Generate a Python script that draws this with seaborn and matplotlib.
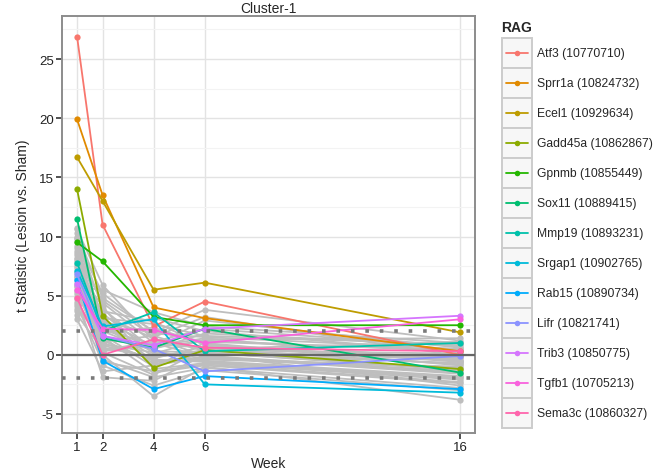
import matplotlib
matplotlib.use("Agg")
import matplotlib.pyplot as plt
from matplotlib.patches import Rectangle
from matplotlib.ticker import MultipleLocator
import pandas as pd
import seaborn as sns

weeks = [1, 2, 4, 6, 16]

rag_names = [
    "Atf3 (10770710)", "Sprr1a (10824732)", "Ecel1 (10929634)",
    "Gadd45a (10862867)", "Gpnmb (10855449)", "Sox11 (10889415)",
    "Mmp19 (10893231)", "Srgap1 (10902765)", "Rab15 (10890734)",
    "Lifr (10821741)", "Trib3 (10850775)", "Tgfb1 (10705213)",
    "Sema3c (10860327)",
]
rag_values = [
    [26.9, 11.0, 2.4, 4.5, 0.0],
    [19.9, 13.5, 4.0, 3.1, 0.3],
    [16.7, 13.0, 5.5, 6.1, 1.9],
    [14.0, 3.3, -1.1, 0.4, -1.2],
    [9.5, 7.9, 3.2, 2.5, 2.5],
    [11.5, 1.4, 0.6, 2.2, -1.5],
    [7.8, 2.0, 3.6, 0.3, 1.0],
    [7.1, 2.4, 3.0, -2.5, -3.2],
    [6.3, -0.5, -2.9, -1.8, -2.9],
    [6.8, 1.6, 0.5, -1.4, -0.1],
    [6.0, 1.6, 0.8, 2.2, 3.3],
    [5.5, 2.2, 2.1, 1.0, 3.0],
    [4.8, 0.0, 1.3, 0.6, 0.3],
]
rag_colors = [
    "#F8766D", "#E18A00", "#BE9C00", "#8CAB00", "#24B700", "#00BE70",
    "#00C1AB", "#00BBDA", "#00ACFC", "#8B93FF", "#D575FE", "#F962DD",
    "#FF65AC",
]

# other genes in the cluster (drawn in grey)
other_values = [
    [10.6, 5.9, 1.2, 0.5, -0.8], [10.3, 4.8, 2.0, 1.1, 0.4],
    [10.0, 3.9, 0.4, -0.6, -1.9], [9.8, 2.7, -0.8, 0.2, -1.2],
    [9.5, 5.2, 1.9, 3.8, 1.2], [9.2, 1.5, -1.5, -0.9, -2.4],
    [9.0, 3.1, 2.6, 1.6, 0.9], [8.8, 0.8, -0.3, 0.7, -0.5],
    [8.6, 4.4, 1.0, -0.2, -1.6], [8.4, 2.2, 3.1, 2.0, 0.2],
    [8.1, -0.4, -1.9, -1.1, -2.8], [7.9, 3.5, 0.1, 1.3, 1.4],
    [7.7, 1.1, 1.6, 0.3, -0.3], [7.5, 2.9, -0.6, -0.4, -1.0],
    [7.3, 0.3, 0.8, 2.9, 0.6], [7.1, 4.1, -1.2, -0.7, -2.1],
    [6.9, 1.9, 2.3, 0.9, -0.6], [6.7, -0.9, -2.6, -1.3, -3.0],
    [6.5, 2.5, 0.5, 1.8, 0.8], [6.3, 3.3, 1.4, -0.1, -1.4],
    [6.1, 0.6, -0.2, 0.4, 0.1], [5.9, 1.7, -1.0, 1.0, -0.9],
    [5.7, 5.5, 3.6, 2.4, 1.0], [5.5, 0.0, -3.5, -1.0, -3.8],
    [5.3, 2.1, 0.9, 0.6, -0.2], [5.1, 1.2, -0.5, -0.5, -1.8],
    [4.9, -1.9, -2.2, 0.0, -2.6], [4.7, 2.8, 1.8, 1.5, 0.5],
    [4.5, 0.9, 0.2, -0.3, -1.1], [4.3, 3.7, 2.8, 0.8, -0.4],
    [4.1, -0.6, -1.4, -0.8, -2.3], [3.9, 1.4, 0.6, 1.2, 0.3],
    [3.7, 2.4, -0.1, 0.1, -0.7], [3.4, 0.4, 1.1, 2.2, 0.7],
    [3.0, -1.4, -0.9, -0.2, -1.5], [10.7, 2.0, 0.3, 0.2, -1.3],
    [9.9, 0.2, -1.7, 0.5, 1.1], [8.2, 4.6, 1.5, 3.2, -0.1],
    [6.6, 1.0, -0.4, -0.6, -2.0], [5.8, 3.0, 0.7, 1.4, -0.5],
]

y_ticks = [-5, 0, 5, 10, 15, 20, 25]
cutoff = 2

rag_df = pd.DataFrame(
    [(n, w, v) for n, vals in zip(rag_names, rag_values) for w, v in zip(weeks, vals)],
    columns=["RAG", "Week", "t"],
)
other_df = pd.DataFrame(
    [(i, w, v) for i, vals in enumerate(other_values) for w, v in zip(weeks, vals)],
    columns=["gene", "Week", "t"],
)

sns.set_theme(style="white")
plt.rcParams["font.family"] = ["Liberation Sans", "DejaVu Sans"]
plt.rcParams["axes.unicode_minus"] = False

fig = plt.figure(figsize=(6.55, 4.77), dpi=100)
ax = fig.add_axes([62 / 655, 1 - 434 / 477, 413 / 655, 417 / 477])

sns.lineplot(data=other_df, x="Week", y="t", units="gene", estimator=None,
             color="#BEBEBE", marker="o", markersize=4.5, markeredgewidth=0,
             linewidth=1.3, ax=ax, zorder=2)
sns.lineplot(data=rag_df, x="Week", y="t", hue="RAG", hue_order=rag_names,
             palette=rag_colors, estimator=None, marker="o", markersize=4.5,
             markeredgewidth=0, linewidth=1.3, legend=False, ax=ax, zorder=3)

ax.axhline(0, color="#666666", linewidth=1.6, zorder=4)
for c in (cutoff, -cutoff):
    ax.axhline(c, color="#7A7A7A", linewidth=2.6, linestyle=(0, (1, 3.0)), zorder=4)

ax.set_xlim(0.41, 16.59)
ax.set_ylim(-6.61, 28.64)
ax.set_xticks(weeks)
ax.set_yticks(y_ticks)
ax.yaxis.set_minor_locator(MultipleLocator(2.5))
ax.grid(which="major", color="#E3E3E3", linewidth=1.0, zorder=0)
ax.grid(which="minor", axis="y", color="#F3F3F3", linewidth=0.8, zorder=0)
ax.set_axisbelow(True)
for s in ax.spines.values():
    s.set_color("#8C8C8C")
    s.set_linewidth(1.4)
ax.tick_params(which="major", length=4, width=1.2, color="#333333",
               labelsize=9.5, labelcolor="#222222", bottom=True, left=True, pad=2)
ax.tick_params(which="minor", length=0)
ax.set_xlabel("Week", fontsize=10, labelpad=2)
ax.set_ylabel("t Statistic (Lesion vs. Sham)", fontsize=10, labelpad=6)
ax.set_title("Cluster-1", fontsize=10, pad=3)

# legend drawn as ggplot-style keys
leg = fig.add_axes([0, 0, 1, 1], facecolor="none")
leg.set_xlim(0, 655)
leg.set_ylim(477, 0)
leg.axis("off")
leg.text(501, 28, "RAG", fontsize=10, fontweight="bold", va="center", ha="left")
for i, (name, col) in enumerate(zip(rag_names, rag_colors)):
    top = 39 + 30 * i
    leg.add_patch(Rectangle((502, top), 30, 30, facecolor="#F7F7F7",
                            edgecolor="#CCCCCC", linewidth=1.4))
    leg.plot([506, 528], [top + 15, top + 15], color=col, linewidth=1.3)
    leg.plot([517], [top + 15], "o", color=col, markersize=4, markeredgewidth=0)
    leg.text(537, top + 15, name, fontsize=8.7, va="center", ha="left")

fig.savefig("out.png", dpi=100)
